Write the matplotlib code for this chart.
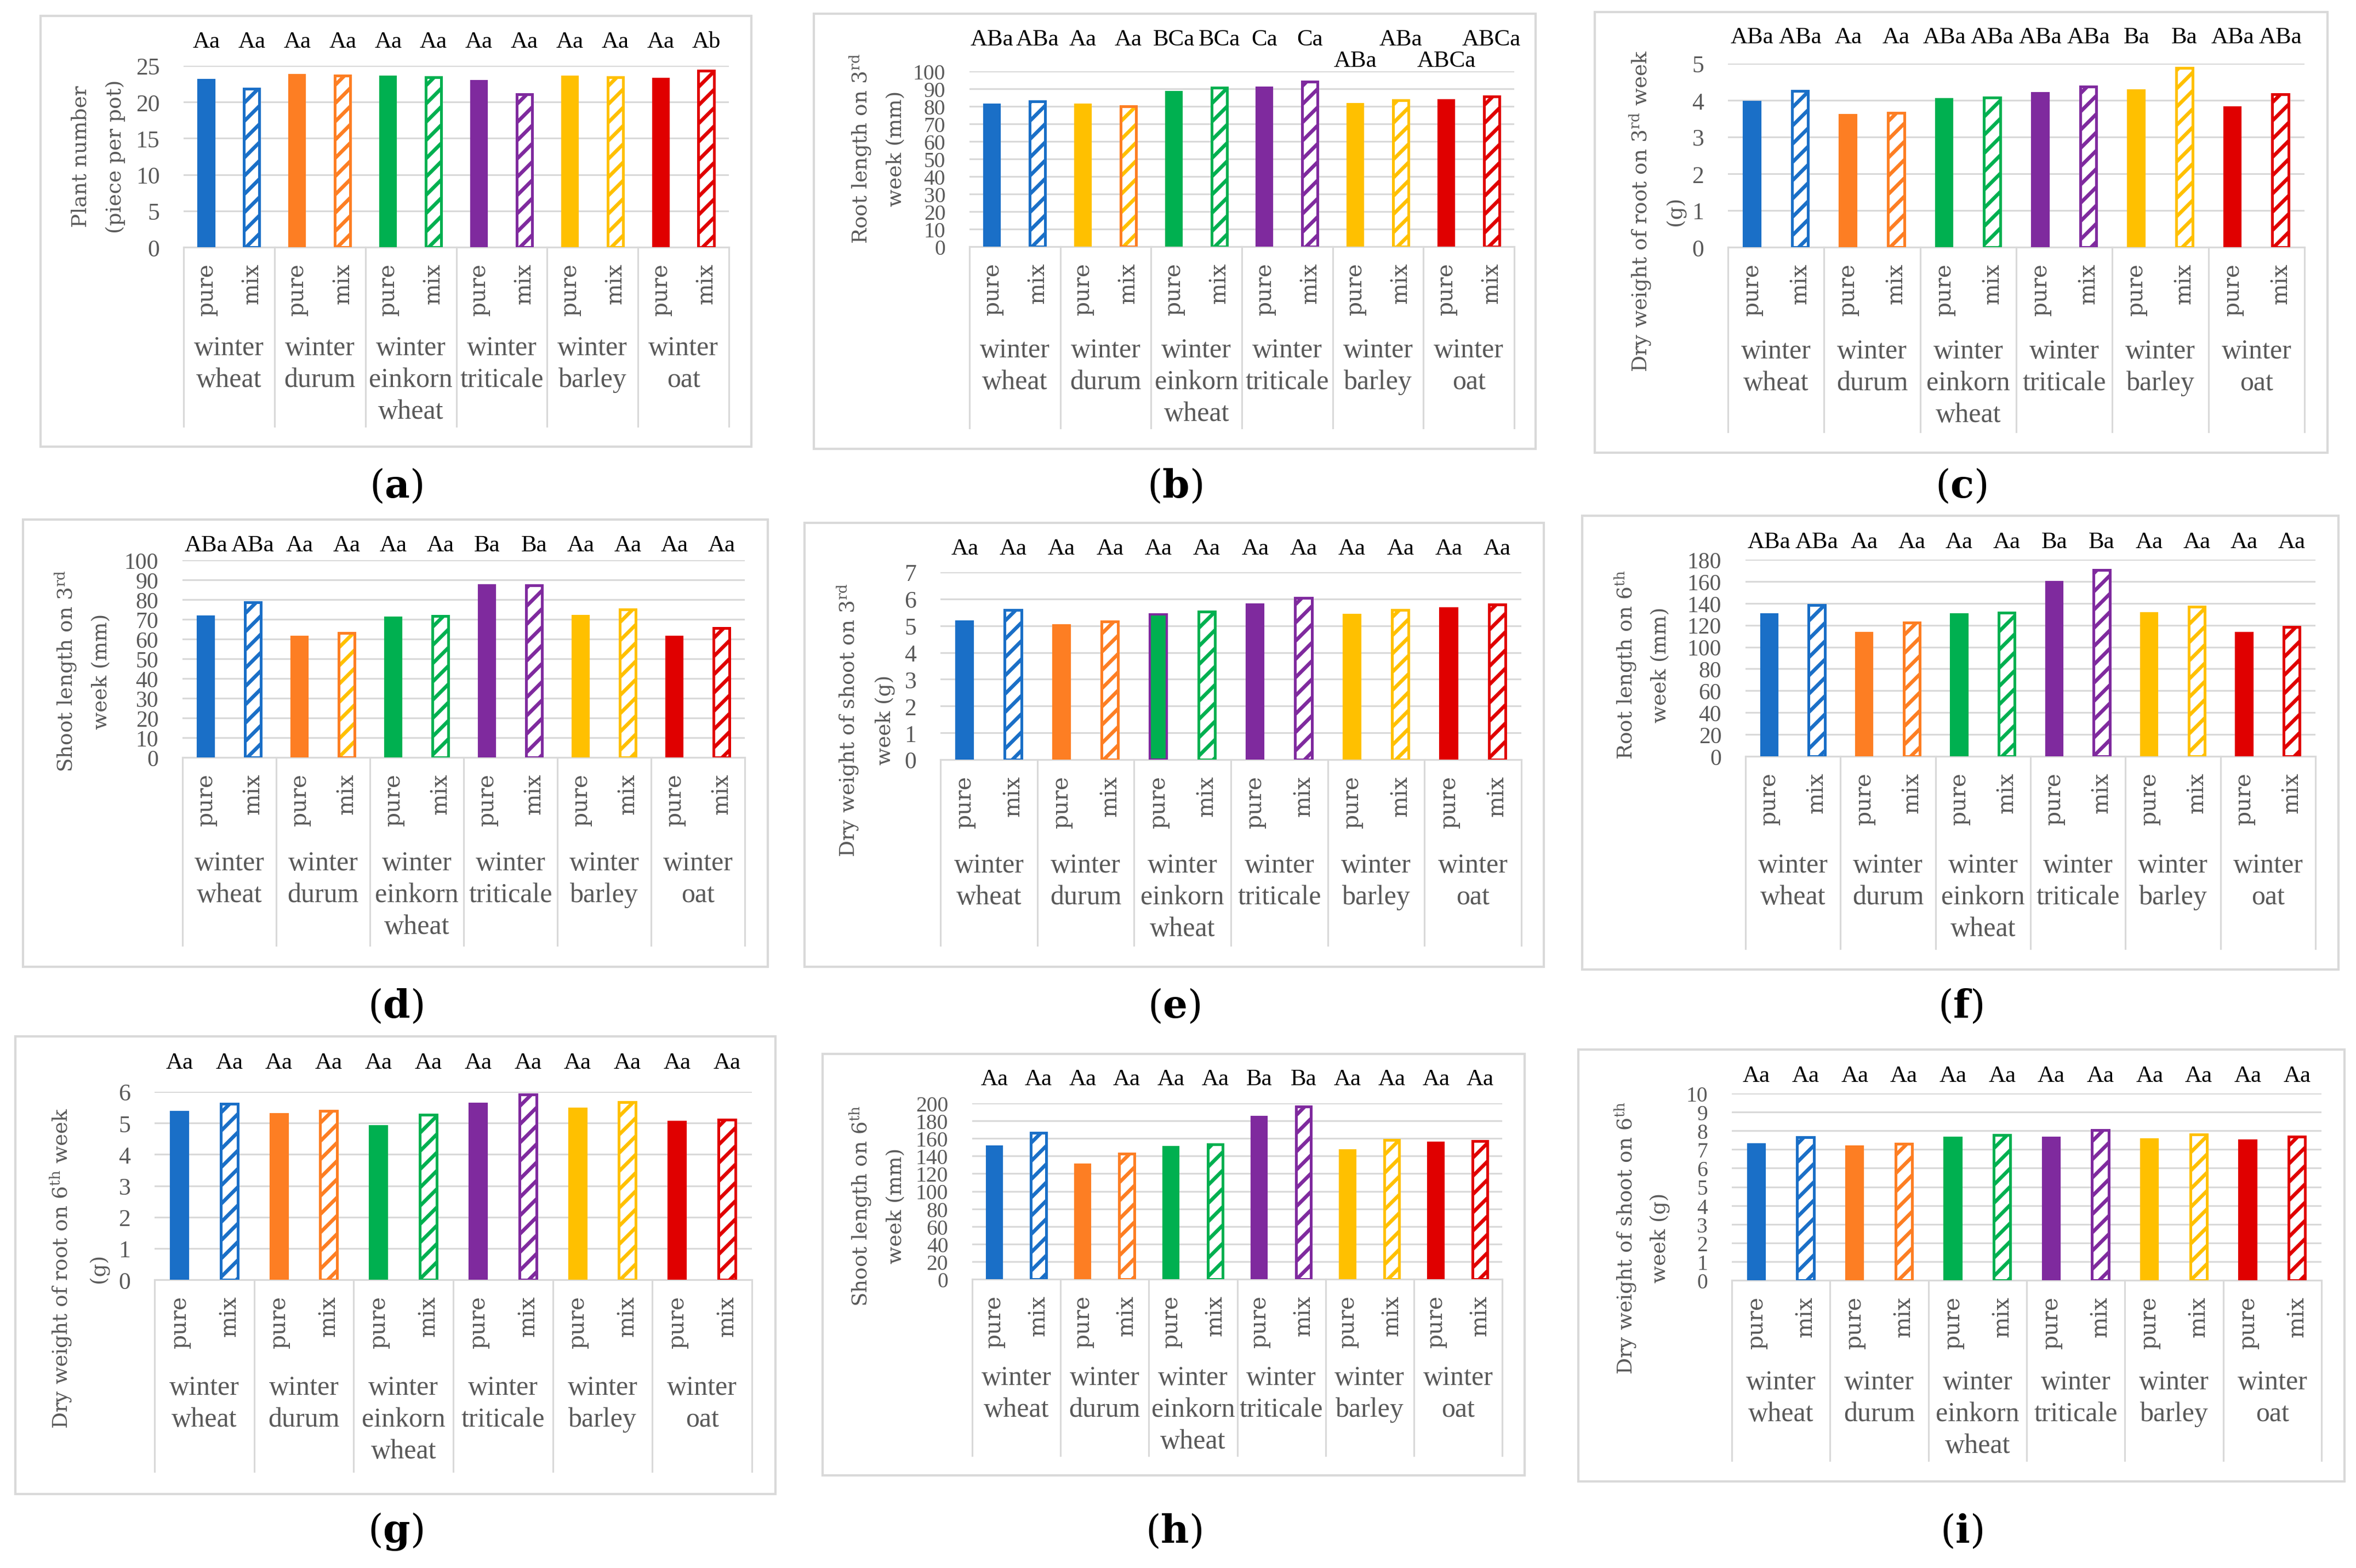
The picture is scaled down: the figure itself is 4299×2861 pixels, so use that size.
import numpy as np
import matplotlib.pyplot as plt
from matplotlib.patches import Rectangle
from matplotlib.transforms import blended_transform_factory

W, H = 4299, 2862

plt.rcParams['font.family'] = ['Liberation Serif', 'DejaVu Serif']
plt.rcParams['mathtext.fontset'] = 'dejavuserif'
plt.rcParams['hatch.linewidth'] = 1.6

# ---- data -----------------------------------------------------------------
crops = ['winter\nwheat', 'winter\ndurum', 'winter\neinkorn\nwheat',
         'winter\ntriticale', 'winter\nbarley', 'winter\noat']
treatments = ['pure', 'mix']

# values are ordered pure, mix, pure, mix ... for the six crops
plant_number = [23.05, 21.8, 23.7, 23.65, 23.5, 23.45, 22.9, 21.1, 23.5, 23.4, 23.2, 24.3]
plant_number_letters = ['Aa', 'Aa', 'Aa', 'Aa', 'Aa', 'Aa', 'Aa', 'Aa', 'Aa', 'Aa', 'Aa', 'Ab']

root_len_3 = [80.8, 82.9, 80.8, 79.9, 88.0, 90.5, 90.5, 94.1, 81.3, 83.5, 83.5, 85.5]
root_len_3_letters = ['ABa', 'ABa', 'Aa', 'Aa', 'BCa', 'BCa', 'Ca', 'Ca', 'ABa', 'ABa', 'ABCa', 'ABCa']

root_dw_3 = [3.96, 4.25, 3.59, 3.66, 4.03, 4.08, 4.2, 4.38, 4.27, 4.88, 3.8, 4.16]
root_dw_3_letters = ['ABa', 'ABa', 'Aa', 'Aa', 'ABa', 'ABa', 'ABa', 'ABa', 'Ba', 'Ba', 'ABa', 'ABa']

shoot_len_3 = [71.3, 78.5, 61.1, 63.1, 70.8, 71.6, 87.1, 87.1, 71.6, 75.1, 61.1, 65.6]
shoot_len_3_letters = ['ABa', 'ABa', 'Aa', 'Aa', 'Aa', 'Aa', 'Ba', 'Ba', 'Aa', 'Aa', 'Aa', 'Aa']

shoot_dw_3 = [5.16, 5.59, 5.01, 5.15, 5.43, 5.52, 5.8, 6.04, 5.41, 5.59, 5.64, 5.8]
shoot_dw_3_letters = ['Aa'] * 12

root_len_6 = [130.1, 138.5, 112.7, 122.3, 130.1, 131.6, 159.6, 170.4, 130.7, 137.0, 112.7, 118.1]
root_len_6_letters = ['ABa', 'ABa', 'Aa', 'Aa', 'Aa', 'Aa', 'Ba', 'Ba', 'Aa', 'Aa', 'Aa', 'Aa']

root_dw_6 = [5.36, 5.61, 5.29, 5.39, 4.89, 5.26, 5.61, 5.92, 5.46, 5.67, 5.04, 5.1]
root_dw_6_letters = ['Aa'] * 12

shoot_len_6 = [151.0, 166.5, 130.0, 142.4, 150.3, 153.0, 184.6, 196.0, 146.7, 158.2, 155.0, 157.0]
shoot_len_6_letters = ['Aa', 'Aa', 'Aa', 'Aa', 'Aa', 'Aa', 'Ba', 'Ba', 'Aa', 'Aa', 'Aa', 'Aa']

shoot_dw_6 = [7.27, 7.66, 7.17, 7.3, 7.62, 7.77, 7.62, 8.03, 7.53, 7.81, 7.47, 7.68]
shoot_dw_6_letters = ['Aa'] * 12

# ---- style ----------------------------------------------------------------
BLUE, ORANGE, GREEN = '#1A6FC7', '#FD7E23', '#00B050'
PURPLE, GOLD, RED = '#7F2A9E', '#FFC000', '#E00000'
BASE = [BLUE, ORANGE, GREEN, PURPLE, GOLD, RED]
GRID = '#D9D9D9'
TXT = '#595959'


def fx(x):
    return x / W


def fy(y):
    return 1 - y / H


fig = plt.figure(figsize=(W / 300, H / 300), dpi=300)


def panel(tag, values, letters, ylab, box, plot, ymax, step, cat_bot, let_y,
          ylab_x, ylab_y, name_off, label_y, low=(), pure_fill=None,
          pure_edge=None, mix_hatch=None, mix_edge=None, tick_size=10.5):
    pure_fill = pure_fill or BASE
    pure_edge = pure_edge or pure_fill
    mix_hatch = mix_hatch or BASE
    mix_edge = mix_edge or mix_hatch

    # frame around the panel
    x0, y0, x1, y1 = box
    fig.add_artist(Rectangle((fx(x0), fy(y1)), (x1 - x0) / W, (y1 - y0) / H,
                             transform=fig.transFigure, fill=False,
                             ec=GRID, lw=1.0))
    fig.text(fx((x0 + x1) / 2), fy(label_y), '($\\mathbf{%s}$)' % tag,
             fontsize=17, family='DejaVu Serif', ha='center', va='center')

    px0, ptop, px1, pbase = plot
    ax = fig.add_axes([fx(px0), fy(pbase), (px1 - px0) / W, (pbase - ptop) / H])
    x = np.arange(len(values))
    vals = np.array(values)
    ax.bar(x[0::2], vals[0::2], width=0.34, color=pure_fill,
           edgecolor=pure_edge, linewidth=1.0, zorder=3)
    ax.bar(x[1::2], vals[1::2], width=0.34, color='white',
           edgecolor=mix_hatch, hatch='///', linewidth=0, zorder=3)
    ax.bar(x[1::2], vals[1::2], width=0.34, fill=False,
           edgecolor=mix_edge, linewidth=1.2, zorder=4)

    ax.set_xlim(-0.5, len(values) - 0.5)
    ax.set_ylim(0, ymax)
    ax.set_yticks(np.arange(0, ymax + step / 2, step))
    ax.set_xticks([])
    ax.tick_params(axis='y', length=0, pad=10.5, labelsize=tick_size,
                   labelcolor=TXT)
    ax.set_axisbelow(True)
    ax.yaxis.grid(True, color=GRID, lw=0.75)
    for s in ['top', 'left', 'right']:
        ax.spines[s].set_visible(False)
    ax.spines['bottom'].set_color(GRID)
    ax.spines['bottom'].set_linewidth(0.75)

    trans = blended_transform_factory(ax.transData, fig.transFigure)
    # category separators
    for b in np.arange(-0.5, len(values), 2):
        ax.plot([b, b], [fy(pbase), fy(cat_bot)], transform=trans,
                clip_on=False, color=GRID, lw=0.75)
    for i, xi in enumerate(x):
        ax.text(xi, fy(pbase + 28), treatments[i % 2], transform=trans,
                rotation=90, ha='center', va='top', fontsize=9.8,
                family='DejaVu Serif', color=TXT)
        yl = let_y + (39 if i in low else 0)
        ax.text(xi, fy(yl), letters[i], transform=trans, ha='center',
                va='center', fontsize=10.3, color='black')
    for k, name in enumerate(crops):
        for j, line in enumerate(name.split('\n')):
            ax.text(2 * k + 0.5, fy(pbase + name_off + 58 * j), line,
                    transform=trans, ha='center', va='center', fontsize=12,
                    color=TXT)
    for line, xl in zip(ylab, ylab_x):
        fig.text(fx(xl), fy(ylab_y), line, rotation=90, ha='center',
                 va='center', fontsize=9, family='DejaVu Serif', color=TXT)


panel('a', plant_number, plant_number_letters, ['Plant number', '(piece per pot)'],
      (74, 30, 1371, 816), (335, 121, 1330, 452), 25, 5, 779, 77,
      (148, 211), 286, 184, 888)
panel('b', root_len_3, root_len_3_letters,
      ['Root length on 3$^{\\mathrm{rd}}$', 'week (mm)'],
      (1485, 26, 2802, 820), (1769, 131, 2763, 451), 100, 10, 782, 73,
      (1570, 1635), 271, 189, 888, low=(8, 10), tick_size=9.5,
      pure_fill=[BLUE, GOLD, GREEN, PURPLE, GOLD, RED],
      mix_hatch=[BLUE, GOLD, GREEN, PURPLE, GOLD, RED],
      mix_edge=[BLUE, ORANGE, GREEN, PURPLE, GOLD, RED])
panel('c', root_dw_3, root_dw_3_letters,
      ['Dry weight of root on 3$^{\\mathrm{rd}}$ week', '(g)'],
      (2910, 23, 4247, 827), (3153, 117, 4205, 452), 5, 1, 789, 69,
      (2993, 3058), 385, 190, 888)
panel('d', shoot_len_3, shoot_len_3_letters,
      ['Shoot length on 3$^{\\mathrm{rd}}$', 'week (mm)'],
      (42, 949, 1401, 1765), (333, 1023, 1359, 1383), 100, 10, 1726, 996,
      (120, 185), 1225, 193, 1837, tick_size=10,
      mix_hatch=[BLUE, GOLD, GREEN, PURPLE, GOLD, RED],
      mix_edge=[BLUE, ORANGE, GREEN, PURPLE, GOLD, RED])
panel('e', shoot_dw_3, shoot_dw_3_letters,
      ['Dry weight of shoot on 3$^{\\mathrm{rd}}$', 'week (g)'],
      (1468, 955, 2817, 1765), (1716, 1045, 2776, 1387), 7, 1, 1726, 1002,
      (1547, 1615), 1314, 193, 1837,
      pure_edge=[BLUE, ORANGE, PURPLE, PURPLE, GOLD, RED])
panel('f', root_len_6, root_len_6_letters,
      ['Root length on 6$^{\\mathrm{th}}$', 'week (mm)'],
      (2887, 942, 4267, 1770), (3185, 1022, 4225, 1381), 180, 20, 1732, 990,
      (2966, 3030), 1213, 199, 1837, tick_size=10)
panel('g', root_dw_6, root_dw_6_letters,
      ['Dry weight of root on 6$^{\\mathrm{th}}$ week', '(g)'],
      (28, 1892, 1415, 2727), (282, 1993, 1372, 2336), 6, 1, 2686, 1940,
      (111, 180), 2314, 197, 2795)
panel('h', shoot_len_6, shoot_len_6_letters,
      ['Shoot length on 6$^{\\mathrm{th}}$', 'week (mm)'],
      (1501, 1924, 2782, 2693), (1774, 2014, 2741, 2335), 200, 20, 2657, 1970,
      (1570, 1635), 2200, 180, 2795, tick_size=9.5)
panel('i', shoot_dw_6, shoot_dw_6_letters,
      ['Dry weight of shoot on 6$^{\\mathrm{th}}$', 'week (g)'],
      (2880, 1916, 4278, 2704), (3160, 1996, 4236, 2337), 10, 1, 2666, 1964,
      (2966, 3030), 2259, 186, 2795, tick_size=9.5)

fig.savefig('out.png', dpi=300, facecolor='white')
